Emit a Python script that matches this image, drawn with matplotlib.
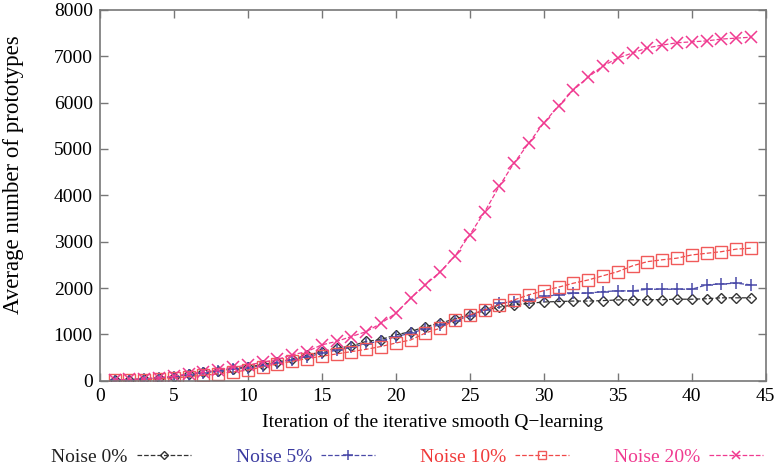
import matplotlib.pyplot as plt

# Keskimääräinen prototyyppien määrä iteraatioittain eri kohinatasoilla
iteraatiot = list(range(1, 45))

kohina_0 = [15, 25, 40, 60, 90, 140, 180, 220, 260, 300, 350, 400, 470, 550, 630,
            700, 750, 850, 890, 990, 1060, 1170, 1240, 1340, 1420, 1520, 1590, 1640,
            1670, 1700, 1710, 1720, 1720, 1730, 1745, 1750, 1750, 1750, 1760, 1760,
            1770, 1790, 1790, 1790]
kohina_5 = [15, 25, 40, 60, 90, 130, 170, 210, 250, 280, 330, 390, 450, 520, 590,
            660, 720, 800, 860, 950, 1030, 1120, 1210, 1300, 1400, 1520, 1670, 1710,
            1745, 1820, 1855, 1890, 1890, 1925, 1940, 1940, 1975, 1975, 1975, 1975,
            2070, 2090, 2105, 2070]
kohina_10 = [10, 15, 25, 40, 60, 90, 120, 150, 190, 230, 300, 360, 420, 480, 530,
             580, 630, 680, 740, 815, 880, 1030, 1135, 1315, 1420, 1530, 1640, 1745,
             1855, 1945, 2020, 2105, 2175, 2265, 2355, 2480, 2570, 2610, 2645, 2715,
             2750, 2785, 2840, 2860]
kohina_20 = [20, 30, 45, 70, 100, 150, 190, 240, 290, 340, 400, 460, 560, 630, 775,
             850, 955, 1060, 1240, 1455, 1780, 2070, 2350, 2690, 3150, 3640, 4200,
             4700, 5130, 5560, 5930, 6270, 6550, 6790, 6960, 7070, 7180, 7240, 7290,
             7310, 7330, 7370, 7390, 7410]

plt.rcParams['font.family'] = ['Liberation Serif', 'DejaVu Serif']

fig = plt.figure(figsize=(7.79, 4.69), dpi=100)
ax = fig.add_axes([0.128, 0.188, 0.855, 0.791])

ax.plot(iteraatiot, kohina_0, linestyle='--', color='#333333', linewidth=0.9,
        marker='D', markersize=5.5, markerfacecolor='none', markeredgecolor='#333333',
        markeredgewidth=1.0, label='Noise 0%')
ax.plot(iteraatiot, kohina_5, linestyle='--', color='#4a4aa8', linewidth=0.9,
        marker='+', markersize=9, markeredgewidth=1.1, label='Noise 5%')
ax.plot(iteraatiot, kohina_10, linestyle='--', color='#f04848', linewidth=0.9,
        marker='s', markersize=8, markerfacecolor='none', markeredgecolor='#f05a5a',
        markeredgewidth=1.0, label='Noise 10%')
ax.plot(iteraatiot, kohina_20, linestyle='--', color='#f03a90', linewidth=0.9,
        marker='x', markersize=8, markeredgewidth=1.1, label='Noise 20%')

ax.set_xlim(0, 45)
ax.set_ylim(0, 8000)
ax.set_xticks(range(0, 46, 5))
ax.set_yticks(range(0, 8001, 1000))
ax.tick_params(direction='in', top=True, right=True, length=6, width=1.0,
               color='#777777', labelsize=14, pad=5)
for reuna in ax.spines.values():
    reuna.set_color('#777777')
    reuna.set_linewidth(1.2)

ax.set_xlabel('Iteration of the iterative smooth Q\u2212learning', fontsize=14, labelpad=6)
ax.set_ylabel('Average number of prototypes', fontsize=16.5)
ax.yaxis.set_label_coords(-0.113, 0.555)

leg = fig.legend(loc='center', bbox_to_anchor=(0.523, 0.026), ncol=4, frameon=False,
                 markerfirst=False, fontsize=14, handlelength=2.8, markerscale=0.8,
                 columnspacing=2.3, handletextpad=0.45,
                 labelcolor=['#222222', '#3a3aa0', '#f03a3a', '#f03a90'])

plt.savefig('out.png', dpi=100)
